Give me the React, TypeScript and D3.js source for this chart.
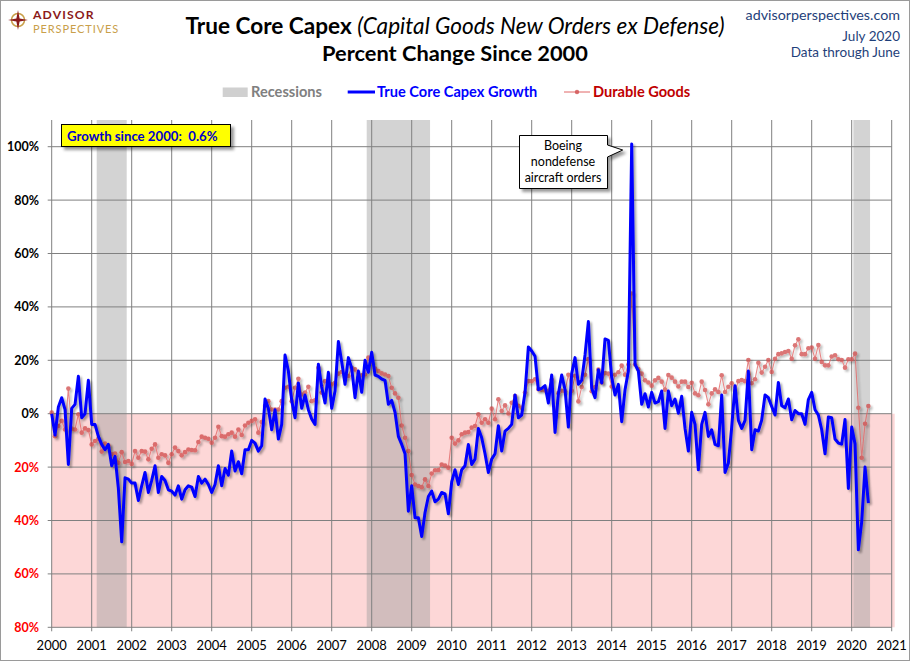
import React from "react";
import * as d3 from "d3";

// ---------- DATA ----------
const startYear = 2000;
// True Core Capex Growth, % change since Jan 2000, monthly Jan 2000 .. Jun 2020
const capexGrowth: number[] = [
  // 2000
  0, -8, 2.5, 6, 1.5, -19, 2, 3.5, 14, -1.5, 0, 12.5,
  // 2001
  -4, -4, -8.5, -11.5, -13.5, -11.5, -19.5, -16, -28, -48, -24, -24.5,
  // 2002
  -26, -26, -32.5, -27, -22, -29.5, -25, -19.5, -29.5, -23.5, -25, -28.5,
  // 2003
  -29, -30.5, -27, -32, -28.5, -27, -27.5, -31, -23.5, -26, -24.5, -26.5,
  // 2004
  -29.5, -26.5, -19.5, -27, -20.5, -23, -14, -21.5, -18, -22.5, -13.5, -13.5,
  // 2005
  -10, -11, -14, -12, 5.5, 2, -6, 1.5, -9.5, -4, 22, 16,
  // 2006
  5, -1.5, 11.5, 2, 7, 1.5, -2, -4, 18.5, 10, 4, 15.5,
  // 2007
  2, 8.5, 27, 19.5, 11, 21, 17, 6, 16, 8, 20, 15.5,
  // 2008
  23, 14.5, 14, 13, 12.5, 3.5, 5, 0.5, -8.5, -11.5, -15, -36.5,
  // 2009
  -27, -39, -39, -46, -37, -31, -29, -33, -32, -29.5, -30, -37.5,
  // 2010
  -25.5, -21, -26.5, -21, -19.5, -11.5, -19, -17, -5.5, -9, -15, -22,
  // 2011
  -17, -15, -4.5, -14, -6.5, -5.5, -4, 7, -1.5, -0.5, 8, 25,
  // 2012
  23.5, 21.5, 9, 9.5, 10.5, 4, 14.5, -7, 7.5, 14.5, 9, -5,
  // 2013
  15, 21, 11, 12.5, 22, 34.5, 9.5, 6, 16.5, 11.5, 28, 27.5,
  // 2014
  13.5, 7, 11, -3, 9, 16, 101, 18.5, 16, 3.5, 7.5, 2.5,
  // 2015
  8, 4, 4.5, 8.5, -5.5, 8.5, 3, 5.5, 0.2, 6.5, -5.5, -14,
  // 2016
  0.5, -4, -21, -4, 0.5, -8.5, -6, -11.5, -12, 7, -22, -18.5,
  // 2017
  -5, 10.5, -2.5, -5.5, -2.5, 16, -13.5, -6, -6.5, -2.4, 7, 6,
  // 2018
  2.7, -0.5, 11.7, 3, 2.2, 5.5, -2.3, 1.2, 0, 0, -4, 5.3,
  // 2019
  8, 1.5, -0.5, -6, -15, -1.2, -1.5, -9.5, -11, -11.4, -2.2, -28,
  // 2020
  -5, -11.3, -51, -40.5, -20, -33.5,
];

// Durable Goods, % change since Jan 2000, monthly Jan 2000 .. Jun 2020
const durableGoods: number[] = [
  // 2000
  0.4, -8.4, -4.6, -2.7, -5.9, 9.4, -5.6, -5.9, -0.2, -7.1, -5.5, -6.1,
  // 2001
  -11.5, -10.2, -9.4, -14.2, -11.2, -11.9, -15.2, -14.9, -18.4, -14.4, -18.1, -17.7,
  // 2002
  -18.8, -14, -16.5, -14, -14.2, -17.1, -13.1, -11.5, -16.5, -15.2, -15.6, -18.4,
  // 2003
  -15.2, -12.7, -14, -15.6, -14.4, -13.4, -13.6, -13.7, -10.6, -8.6, -9, -9.4,
  // 2004
  -10.9, -9, -4.9, -8.4, -8.6, -7.7, -7.1, -8.6, -5.9, -8, -4.4, -3.4,
  // 2005
  -2.7, -2.1, -7.1, -3.1, 2.9, 4.7, 1.6, 1.6, 1.6, 4.7, 9.7, 10.1,
  // 2006
  4.7, 9.7, 13.1, 7.2, 7.9, 10.1, 4.7, 5, 17.2, 7.9, 12.2, 11.4,
  // 2007
  11, 11.6, 15, 15.6, 13.5, 14.1, 17.2, 16.6, 13.5, 14.4, 14.7, 21,
  // 2008
  19.4, 16.9, 16, 15.1, 14.7, 14.1, 9.7, 7.6, 6, -4.4, -9, -14,
  // 2009
  -23, -26.5, -27.1, -27.5, -24.6, -27.1, -22.4, -21.2, -21.1, -19, -19.4, -20.2,
  // 2010
  -9, -11.2, -10, -7.7, -7.1, -6.9, -5.2, -4.6, -0.2, -3.4, -2.1, -3.4,
  // 2011
  1.9, -2.1, 5.4, 1, 3.1, 0.1, 4.1, 6.6, 3, 2.2, 7.9, 12.2,
  // 2012
  12.2, 12.9, 9.2, 9, 8.7, 8.6, 12.7, -0.4, 7.7, 8.6, 8.4, 14.6,
  // 2013
  8.6, 14.2, 4.6, 10, 14.6, 20.5, 8.4, 10, 16.5, 11.7, 15.2, 15,
  // 2014
  10.2, 14.6, 15.5, 18, 14.6, 18.4, 45, 18.4, 16.7, 15, 12.5, 11.7,
  // 2015
  10.5, 12.5, 13.4, 12, 9, 14.5, 13.5, 12, 10.2, 12, 12, 10,
  // 2016
  11.6, 7.6, 6.9, 12, 8.9, 3.5, 7.6, 9.1, 8.1, 14.4, 8.1, 10.1,
  // 2017
  11.4, 8.5, 12.2, 12.6, 12.2, 20.1, 11.4, 12.9, 19.1, 15.4, 17.6, 20.1,
  // 2018
  15.6, 20.6, 22.3, 22.6, 23.1, 23.5, 20.6, 25.6, 27.9, 22.3, 22.3, 24.5,
  // 2019
  24.75, 20.6, 25.75, 19.4, 18.1, 18.1, 21.4, 21.9, 20.4, 20.1, 17.25, 20.4,
  // 2020
  20.4, 22.5, 2.25, -16.5, -3.75, 2.9,
];

// Recessions as [first month, last month] (month index from Jan 2000)
const recessions: [number, number][] = [
  [14, 22], // Mar 2001 - Nov 2001
  [95, 113], // Dec 2007 - Jun 2009
  [241, 245], // Feb 2020 - Jun 2020
];

const yearTicks: number[] = d3.range(2000, 2022);
const yTicks: number[] = [100, 80, 60, 40, 20, 0, -20, -40, -60, -80];

const titleMain = "True Core Capex ";
const titleItalic = "(Capital Goods New Orders ex Defense)";
const subtitle = "Percent Change Since 2000";
const sourceLines = ["advisorperspectives.com", "July 2020", "Data through June"];
const growthText = "Growth since 2000:\u00a0\u00a00.6%";
const annotationLines = ["Boeing", "nondefense", "aircraft orders"];
const annotationMonth = 174;

// ---------- LAYOUT ----------
const W = 910;
const H = 661;
const FONT = "Lato, 'Open Sans', sans-serif";

export default function App() {
  const x = d3.scaleLinear().domain([2000, 2021]).range([51.7, 891.7]);
  const y = d3.scaleLinear().domain([-80, 110]).range([627.3, 120]);
  const xm = (m: number) => x(startYear + m / 12);

  const line = d3
    .line<number>()
    .x((_, i) => xm(i))
    .y((d) => y(d));

  const x0 = x(2000);
  const x1 = x(2021);
  const yTop = y(110);
  const yBot = y(-80);

  const annX = xm(annotationMonth);
  const annY = y(capexGrowth[annotationMonth]);

  return (
    <svg
      width={W}
      height={H}
      viewBox={`0 0 ${W} ${H}`}
      style={{ position: "absolute", left: 0, top: 0, background: "#fff" }}
      fontFamily={FONT}
    >
      <defs>
        <filter id="shadow" x="-5%" y="-5%" width="110%" height="115%">
          <feDropShadow dx="2" dy="2" stdDeviation="1.2" floodColor="#000" floodOpacity="0.35" />
        </filter>
        <filter id="boxshadow" x="-10%" y="-10%" width="130%" height="140%">
          <feDropShadow dx="3" dy="3" stdDeviation="1.5" floodColor="#000" floodOpacity="0.4" />
        </filter>
      </defs>

      <rect x={0.5} y={0.5} width={W - 1} height={H - 1} fill="#fff" stroke="#9a9a9a" />

      {/* Logo */}
      <g>
        <circle cx={18} cy={20} r={6.5} fill="none" stroke="#c9a04a" strokeWidth={1.5} />
        <path
          d="M18,10 L19.6,18.4 L28,20 L19.6,21.6 L18,30 L16.4,21.6 L8,20 L16.4,18.4 Z"
          fill="#8b1a1a"
        />
        <text x={33} y={19.2} fontSize={12.2} fontWeight={700} fill="#8b1a1a" letterSpacing={1.1} fontFamily="Lato, sans-serif">
          ADVISOR
        </text>
        <text x={33} y={32.6} fontSize={11} fill="#c9a04a" letterSpacing={0.9} fontFamily="Lato, sans-serif">
          PERSPECTIVES
        </text>
      </g>

      {/* Title */}
      <text x={455} y={34} textAnchor="middle" fontSize={22.6} fill="#000">
        <tspan fontWeight={700}>{titleMain}</tspan>
        <tspan fontStyle="italic">{titleItalic}</tspan>
      </text>
      <text x={455} y={61} textAnchor="middle" fontSize={21.8} fontWeight={700} fill="#000">
        {subtitle}
      </text>

      {/* Source */}
      {sourceLines.map((s, i) => (
        <text
          key={s}
          x={900}
          y={[20, 41, 57][i]}
          textAnchor="end"
          fontSize={i === 0 ? 14.3 : 13.5}
          fill="#1f3f7a"
        >
          {s}
        </text>
      ))}

      {/* Legend */}
      <g fontSize={14.6} fontWeight={700}>
        <rect x={222.7} y={87.5} width={25} height={9.5} fill="#d0d0d0" />
        <text x={251} y={97} fill="#808080">Recessions</text>
        <line x1={347.7} x2={375} y1={92} y2={92} stroke="#0000ff" strokeWidth={3} />
        <text x={377} y={97} fill="#0000ff">True Core Capex Growth</text>
        <line x1={564} x2={590} y1={92} y2={92} stroke="#e06666" strokeWidth={1} />
        <circle cx={577} cy={92} r={2.2} fill="#d05050" opacity={0.8} />
        <text x={593} y={97} fill="#c00000">Durable Goods</text>
      </g>

      {/* Plot background: negative zone */}
      <rect x={x0} y={y(0)} width={x1 - x0 + 3} height={yBot - y(0)} fill="#fdd7d7" />

      {/* Recessions */}
      {recessions.map(([s, e]) => (
        <rect
          key={s}
          x={xm(s - 0.5)}
          y={yTop}
          width={xm(e + 0.5) - xm(s - 0.5)}
          height={yBot - yTop}
          fill="#a0a0a0"
          opacity={0.46}
        />
      ))}

      {/* Gridlines */}
      <g stroke="#808080" strokeWidth={1}>
        {yearTicks.map((yr) => (
          <line key={yr} x1={x(yr)} x2={x(yr)} y1={yTop} y2={yBot + 4} />
        ))}
        {yTicks.map((v) => (
          <line key={v} x1={x0 - 4} x2={x1} y1={y(v)} y2={y(v)} />
        ))}
      </g>

      {/* Axis labels */}
      <g fontSize={12.5} fontWeight={700} textAnchor="end">
        {yTicks.map((v) => (
          <text key={v} x={39} y={y(v) + 4.5} fill={v < 0 ? "#ff0000" : "#000"}>
            {`${Math.abs(v)}%`}
          </text>
        ))}
      </g>
      <g fontSize={13} textAnchor="middle" fill="#000">
        {yearTicks.map((yr) => (
          <text key={yr} x={x(yr)} y={650}>
            {yr}
          </text>
        ))}
      </g>

      {/* Durable Goods */}
      <g filter="url(#shadow)" opacity={0.75}>
        <path d={line(durableGoods) ?? ""} fill="none" stroke="#e06060" strokeWidth={1.1} />
        {durableGoods.map((v, i) => (
          <circle key={i} cx={xm(i)} cy={y(v)} r={2.3} fill="#d04848" />
        ))}
      </g>

      {/* True Core Capex Growth */}
      <path
        d={line(capexGrowth) ?? ""}
        fill="none"
        stroke="#0000ff"
        strokeWidth={3}
        strokeLinejoin="round"
        filter="url(#shadow)"
      />

      {/* Growth box */}
      <g>
        <rect x={61.5} y={124.5} width={169} height={22} fill="#ffff00" stroke="#000" strokeWidth={1} filter="url(#boxshadow)" />
        <text x={67} y={140.5} fontSize={13.2} fontWeight={700} fill="#0000cc">
          {growthText}
        </text>
      </g>

      {/* Annotation callout */}
      <g>
        <path
          d={`M519.5,135.5 H607.5 V145 L${annX - 9},${annY + 6} L607.5,157 V188.5 H519.5 Z`}
          fill="#fff"
          stroke="#000"
          strokeWidth={1}
          filter="url(#boxshadow)"
        />
        {annotationLines.map((s, i) => (
          <text key={s} x={563} y={150 + i * 16} textAnchor="middle" fontSize={12.5} fill="#000">
            {s}
          </text>
        ))}
      </g>
    </svg>
  );
}
